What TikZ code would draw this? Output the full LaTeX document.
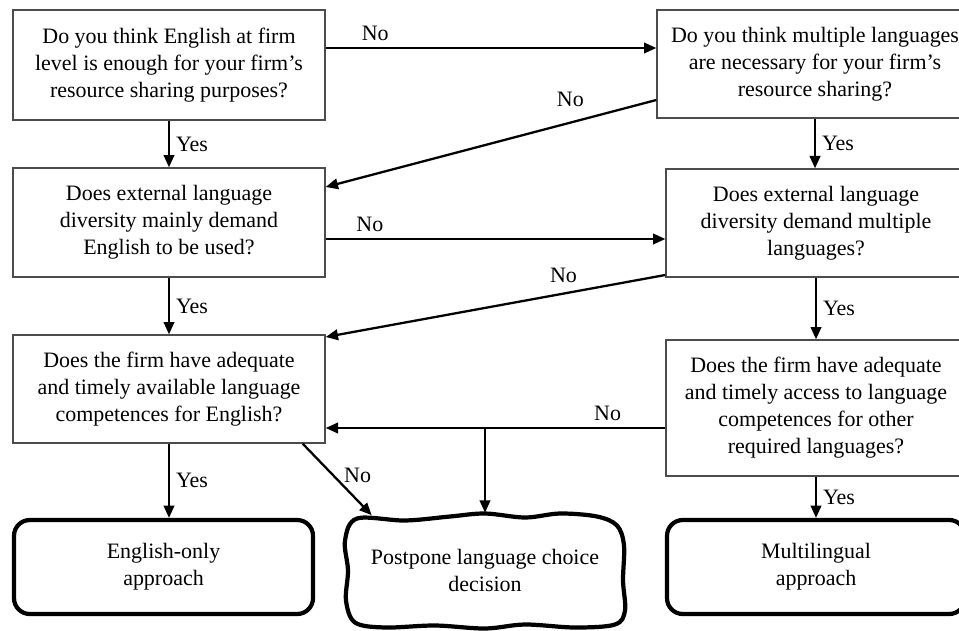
\documentclass[tikz,border=0pt]{standalone}
\usepackage{fontspec}
\setmainfont{Liberation Serif}
\usetikzlibrary{calc,arrows.meta}

\tikzset{
    qbox/.style={draw=black!70, line width=0.8pt, align=center, inner sep=2pt},
    endbox/.style={draw=black, line width=2.4pt, rounded corners=9pt, align=center},
    wavyline/.style={draw=black, line width=2.4pt},
    arr/.style={line width=1.3pt, -{Triangle[length=7pt,width=6pt]}}
}

\begin{document}
\begin{tikzpicture}[font=\fontsize{12.5}{15.4}\selectfont]
\useasboundingbox (0,0) rectangle (19.18,12.6);
\clip (0,0) rectangle (19.18,12.6);

% questions, left column
\node[qbox, minimum width=6.24cm, minimum height=2.2cm] (qeng) at (3.38,11.3)
    {Do you think English at firm\\level is enough for your firm’s\\resource sharing purposes?};
\node[qbox, minimum width=6.24cm, minimum height=2.18cm] (qextEng) at (3.38,8.15)
    {Does external language\\diversity mainly demand\\English to be used?};
\node[qbox, minimum width=6.24cm, minimum height=2.16cm] (qcompEng) at (3.38,4.82)
    {Does the firm have adequate\\and timely available language\\competences for English?};

% questions, right column
\node[qbox, minimum width=6.32cm, minimum height=2.16cm] (qmulti) at (16.3,11.32)
    {Do you think multiple languages\\are necessary for your firm’s\\resource sharing?};
\node[qbox, minimum width=6.0cm, minimum height=2.16cm] (qextMulti) at (16.32,8.14)
    {Does external language\\diversity demand multiple\\languages?};
\node[qbox, minimum width=6.0cm, minimum height=2.72cm] (qcompMulti) at (16.32,4.44)
    {Does the firm have adequate\\and timely access to language\\competences for other\\required languages?};

% outcomes
\node[endbox, minimum width=5.98cm, minimum height=1.88cm] (engonly) at (3.27,1.26)
    {English-only\\approach};
\node[align=center, minimum width=5.6cm, minimum height=2.3cm] (postpone) at (9.7,1.19)
    {Postpone language choice\\decision};
\node[endbox, minimum width=5.96cm, minimum height=1.88cm] (multiling) at (16.32,1.26)
    {Multilingual\\approach};

% wavy outline of the postpone box
\begin{scope}[shift={(postpone.center)}]
\draw[wavyline] plot[smooth cycle, tension=0.55] coordinates {
    (-2.56,1.04) (-1.6,1.0) (-0.7,1.08) (0,1.14) (0.8,1.06) (1.5,1.14) (2.24,1.08)
    (2.64,0.9) (2.78,0.5) (2.76,-0.2) (2.8,-0.8) (2.6,-1.08) (1.8,-1.14) (0.8,-1.08)
    (0,-1.16) (-1.0,-1.1) (-2.0,-1.14) (-2.6,-1.04) (-2.78,-0.6) (-2.74,0) (-2.8,0.6)};
\end{scope}

% yes branches
\draw[arr] (qeng.south) -- (qextEng.north) node[midway,right]{Yes};
\draw[arr] (qextEng.south) -- (qcompEng.north) node[midway,right]{Yes};
\draw[arr] (qcompEng.south) -- (qcompEng.south |- engonly.north) node[midway,right]{Yes};
\draw[arr] (qmulti.south) -- (qmulti.south |- qextMulti.north) node[midway,right]{Yes};
\draw[arr] (qextMulti.south) -- (qcompMulti.north) node[midway,right]{Yes};
\draw[arr] (qcompMulti.south) -- (multiling.north) node[midway,right]{Yes};

% no branches
\coordinate (n1) at ([yshift=3.4mm]qeng.east);
\draw[arr] (n1) -- (n1 -| qmulti.west) node[pos=0.15,above]{No};
\draw[arr] ([yshift=-7.2mm]qmulti.west) -- ([yshift=7.1mm]qextEng.east)
    node[pos=0.26,above=5pt]{No};
\coordinate (n2) at ([yshift=-3.3mm]qextEng.east);
\draw[arr] (n2) -- (n2 -| qextMulti.west) node[pos=0.13,above]{No};
\draw[arr] ([yshift=-10.4mm]qextMulti.west) -- ([yshift=10.4mm]qcompEng.east)
    node[pos=0.3,above=2pt]{No};
\coordinate (n3) at ([yshift=-4mm]qcompMulti.west);
\draw[arr] (n3) -- (n3 -| qcompEng.east) node[pos=0.17,above]{No};
\draw[arr] (n3 -| postpone.north) -- (postpone.north);
\draw[arr] ([xshift=-4.6mm]qcompEng.south east) -- ([xshift=5.4mm,yshift=-0.5mm]postpone.north west)
    node[pos=0.45,right=2pt]{No};

\end{tikzpicture}
\end{document}
